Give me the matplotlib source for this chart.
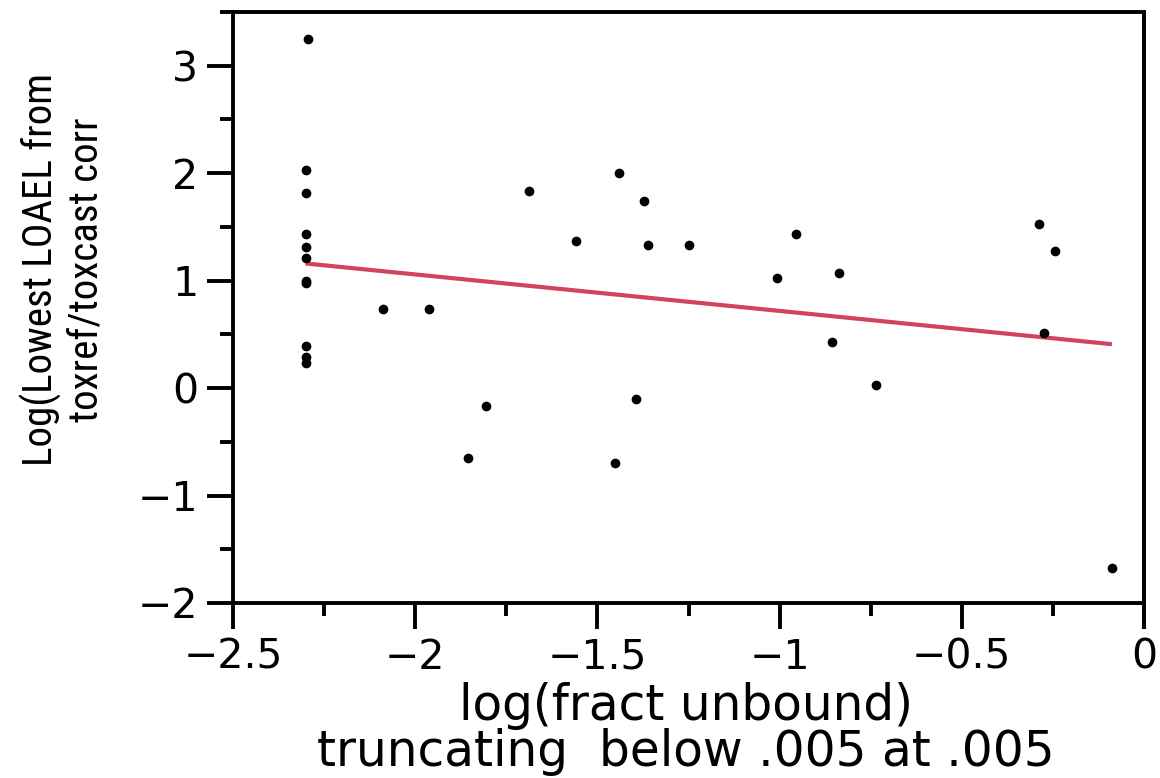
import numpy as np
import matplotlib
matplotlib.use("agg")
import matplotlib.pyplot as plt
from matplotlib import font_manager as fm
from matplotlib.ticker import MultipleLocator, FuncFormatter

# log(fract unbound), truncated below .005 at .005 -> log10(.005) = -2.301
log_fu = [-2.301, -2.301, -2.301, -2.301, -2.301, -2.301, -2.301, -2.301, -2.301, -2.301,
          -2.293,
          -2.088, -1.963, -1.805, -1.856, -1.689, -1.559, -1.441, -1.372, -1.362, -1.249,
          -0.955, -1.008, -0.836, -0.855, -0.735, -0.289, -0.244, -0.274, -1.393, -1.452,
          -0.088]
# Log(Lowest LOAEL from toxref/toxcast corr)
log_loael = [2.03, 1.82, 1.43, 1.31, 1.21, 1.00, 0.975, 0.39, 0.285, 0.235,
             3.25,
             0.733, 0.733, -0.168, -0.65, 1.83, 1.365, 2.006, 1.741, 1.334, 1.327,
             1.433, 1.026, 1.073, 0.429, 0.031, 1.53, 1.278, 0.513, -0.097, -0.694,
             -1.676]

x_label = "log(fract unbound)\ntruncating  below .005 at .005"
y_label = "Log(Lowest LOAEL from\ntoxref/toxcast corr"

# y label is set in a narrow face; use one if installed, else shrink DejaVu
ylab_font, ylab_size = 'DejaVu Sans', 24
for fam, size in [('Liberation Sans Narrow', 30.5), ('Roboto Condensed', 29.5),
                  ('DejaVu Sans Condensed', 27)]:
    try:
        fm.findfont(fm.FontProperties(family=fam), fallback_to_default=False)
        ylab_font, ylab_size = fam, size
        break
    except ValueError:
        pass

x = np.array(log_fu)
y = np.array(log_loael)

fig = plt.figure(figsize=(11.6, 7.78), dpi=100)
ax = fig.add_axes([233/1160, 175/778, 911/1160, 591/778])

ax.plot(x, y, 'o', color='black', markersize=7, markeredgewidth=0, zorder=3)

# least squares fit over the data range
b, a = np.polyfit(x, y, 1)
xs = np.array([x.min(), x.max()])
ax.plot(xs, a + b * xs, color='#d2435f', lw=3, zorder=2, solid_capstyle='butt')

ax.set_xlim(-2.5, 0)
ax.set_ylim(-2, 3.5)

fmt = FuncFormatter(lambda v, p: ('%g' % v).replace('-', '\u2212'))
ax.xaxis.set_major_locator(MultipleLocator(0.5))
ax.xaxis.set_minor_locator(MultipleLocator(0.25))
ax.yaxis.set_major_locator(MultipleLocator(1))
ax.yaxis.set_minor_locator(MultipleLocator(0.5))
ax.xaxis.set_major_formatter(fmt)
ax.yaxis.set_major_formatter(fmt)

for s in ax.spines.values():
    s.set_linewidth(2.8)
ax.tick_params(which='major', direction='out', length=19, width=2.8, labelsize=29.5, pad=6)
ax.tick_params(which='minor', direction='out', length=9.5, width=2.8)

fig.text(686/1160, 1 - 729/778, x_label, ha='center', va='center',
         fontsize=35, linespacing=0.95, multialignment='center')
fig.text(63/1160, 1 - 270/778, y_label, rotation=90, ha='center', va='center',
         fontsize=ylab_size, linespacing=1.15, multialignment='center',
         family=ylab_font)

fig.savefig("out.png", dpi=100)
